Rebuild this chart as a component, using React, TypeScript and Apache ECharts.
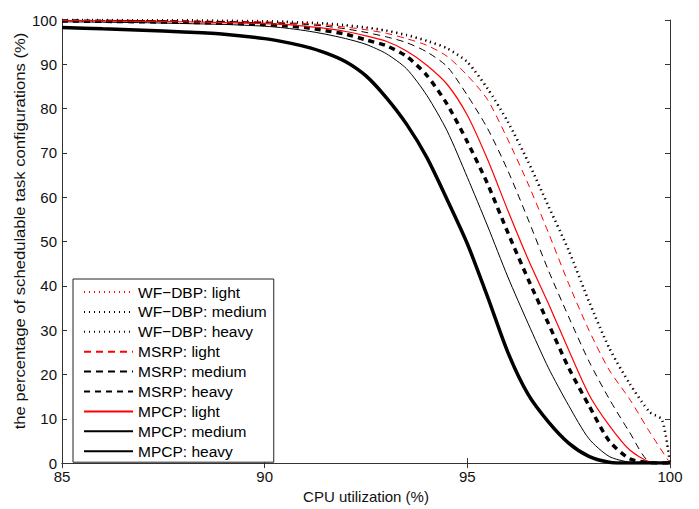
import React, { useEffect, useRef } from "react";
import * as echarts from "echarts";

const xs = [85, 86, 87, 88, 89, 90, 90.5, 91, 91.5, 92, 92.5, 93, 93.5, 94, 94.5, 95, 95.5, 96, 96.5, 97, 97.5, 98, 98.5, 99, 99.5, 100];
const xsWF = [85, 86, 87, 88, 89, 90, 90.5, 91, 91.5, 92, 92.5, 93, 93.5, 94, 94.5, 95, 95.5, 96, 96.5, 97, 97.5, 98, 98.5, 99, 99.5, 99.8, 100];

const wfLight = [100, 100, 99.9, 99.9, 99.8, 99.7, 99.6, 99.4, 99.2, 98.8, 98.3, 97.6, 96.6, 95.3, 93.6, 90.5, 84.5, 77, 68, 58, 48, 36.5, 26, 18, 11.5, 9.8, 0];
const wfMedium = [100, 100, 99.9, 99.9, 99.8, 99.7, 99.6, 99.4, 99.2, 98.8, 98.3, 97.6, 96.6, 95.3, 93.6, 90.5, 84.5, 77, 68, 58, 48, 36.5, 26, 18, 11.5, 9.8, 0];
const wfHeavy = [100, 100, 99.9, 99.9, 99.8, 99.7, 99.6, 99.4, 99.2, 98.8, 98.3, 97.6, 96.6, 95.3, 93.6, 90.5, 84.5, 77, 68, 58, 48, 36.5, 26, 18, 11.5, 9.8, 0];

const msrpLight = [100, 99.9, 99.9, 99.8, 99.7, 99.6, 99.4, 99.2, 98.9, 98.4, 97.8, 97.0, 95.8, 94.3, 91.8, 87.5, 82, 73, 63, 52, 40.5, 30, 21, 14.5, 7, 0];
const msrpMedium = [99.9, 99.9, 99.8, 99.7, 99.6, 99.4, 99.2, 99.0, 98.6, 98.0, 97.2, 96.2, 94.9, 92.8, 89.5, 83, 75.5, 66, 55, 43.5, 33, 23, 14.5, 7, 0.3, 0];
const msrpHeavy = [99.8, 99.7, 99.6, 99.5, 99.3, 99.0, 98.7, 98.3, 97.6, 96.8, 95.5, 94.2, 91.8, 87.5, 81.0, 72.5, 63, 52, 41.5, 31.5, 21.5, 13, 5, 1, 0.1, 0];

const mpcpLight = [99.9, 99.8, 99.7, 99.6, 99.4, 99.2, 99.0, 98.6, 98.1, 97.4, 96.4, 95.2, 93.0, 89.8, 85.5, 78.5, 68.5, 57, 46, 36, 25.5, 15.5, 8.5, 3, 0.3, 0];
const mpcpMedium = [99.6, 99.5, 99.4, 99.2, 99.0, 98.6, 98.2, 97.6, 96.8, 95.8, 94.5, 92.4, 89.0, 83.0, 75.0, 64.5, 53.5, 42, 31.5, 21.5, 13, 5.5, 1.5, 0.2, 0, 0];
const mpcpHeavy = [98.3, 98.0, 97.7, 97.3, 96.8, 95.8, 95.0, 94.0, 92.6, 90.6, 87.4, 82.5, 76.5, 69.0, 59.5, 49.5, 37.5, 25, 15.5, 9.3, 4.5, 1.5, 0.2, 0, 0, 0];

const xTicks = [85, 90, 95, 100];
const yTicks = [0, 10, 20, 30, 40, 50, 60, 70, 80, 90, 100];
const xTitle = "CPU utilization (%)";
const yTitle = "the percentage of schedulable task configurations (%)";

const FONT = "Liberation Sans, Arial, Helvetica, sans-serif";
const RED = "#ff0000";
const BLACK = "#000000";

const seriesDefs = [
  { name: "WF\u2212DBP: light", x: xsWF, y: wfLight, color: RED, width: 1, type: [1, 4] },
  { name: "WF\u2212DBP: medium", x: xsWF, y: wfMedium, color: BLACK, width: 1, type: [1, 4] },
  { name: "WF\u2212DBP: heavy", x: xsWF, y: wfHeavy, color: BLACK, width: 2.8, type: [1, 4] },
  { name: "MSRP: light", x: xs, y: msrpLight, color: RED, width: 1, type: [7, 5] },
  { name: "MSRP: medium", x: xs, y: msrpMedium, color: BLACK, width: 1, type: [7, 5] },
  { name: "MSRP: heavy", x: xs, y: msrpHeavy, color: BLACK, width: 3.5, type: [6, 5] },
  { name: "MPCP: light", x: xs, y: mpcpLight, color: RED, width: 1.2, type: "solid" },
  { name: "MPCP: medium", x: xs, y: mpcpMedium, color: BLACK, width: 1, type: "solid" },
  { name: "MPCP: heavy", x: xs, y: mpcpHeavy, color: BLACK, width: 3.5, type: "solid" },
];

export default function App() {
  const ref = useRef<HTMLDivElement>(null);
  useEffect(() => {
    if (!ref.current) return;
    const chart = echarts.init(ref.current, undefined, { renderer: "svg" });
    const axisLineStyle = { color: "#333", width: 1 };
    const option: any = {
      animation: false,
      backgroundColor: "#fff",
      textStyle: { fontFamily: FONT },
      grid: { left: 62, right: 29, top: 20, bottom: 42, containLabel: false },
      graphic: [
        {
          type: "text",
          x: 20,
          y: 231,
          rotation: Math.PI / 2,
          scaleX: 1.11,
          style: {
            text: yTitle,
            fontSize: 15,
            fontFamily: FONT,
            fill: "#111",
            align: "center",
            verticalAlign: "middle",
          },
        },
      ],
      xAxis: [
        {
          type: "value",
          min: 85,
          max: 100,
          interval: 5,
          position: "bottom",
          name: xTitle,
          nameLocation: "middle",
          nameGap: 22,
          nameTextStyle: { fontSize: 15, color: "#111", fontFamily: FONT },
          axisLine: { show: true, lineStyle: axisLineStyle },
          axisTick: { show: true, inside: true, length: 5, lineStyle: axisLineStyle },
          axisLabel: {
            fontSize: 15,
            color: "#111",
            margin: 6,
            fontFamily: FONT,
            formatter: (v: number) => (xTicks.includes(v) ? String(v) : ""),
          },
          splitLine: { show: false },
        },
        {
          type: "value",
          min: 85,
          max: 100,
          interval: 5,
          position: "top",
          axisLine: { show: true, lineStyle: axisLineStyle },
          axisTick: { show: true, inside: true, length: 5, lineStyle: axisLineStyle },
          axisLabel: { show: false },
          splitLine: { show: false },
        },
      ],
      yAxis: [
        {
          type: "value",
          min: 0,
          max: 100,
          interval: 10,
          position: "left",
          axisLine: { show: true, lineStyle: axisLineStyle },
          axisTick: { show: true, inside: true, length: 5, lineStyle: axisLineStyle },
          axisLabel: {
            fontSize: 15,
            color: "#111",
            margin: 5,
            fontFamily: FONT,
            formatter: (v: number) => (yTicks.includes(v) ? String(v) : ""),
          },
          splitLine: { show: false },
        },
        {
          type: "value",
          min: 0,
          max: 100,
          interval: 10,
          position: "right",
          axisLine: { show: true, lineStyle: axisLineStyle },
          axisTick: { show: true, inside: true, length: 5, lineStyle: axisLineStyle },
          axisLabel: { show: false },
          splitLine: { show: false },
        },
      ],
      legend: {
        show: true,
        orient: "vertical",
        left: 73,
        top: 279,
        itemWidth: 49,
        itemHeight: 14,
        itemGap: 3.9,
        padding: [5, 7, 3, 10],
        backgroundColor: "#fff",
        borderColor: "#222",
        borderWidth: 1,
        borderRadius: 0,
        itemStyle: { color: "rgba(0,0,0,0)", borderWidth: 0, opacity: 0 },
        textStyle: { fontSize: 15.5, color: "#000", fontFamily: FONT },
        data: seriesDefs.map((s) => s.name),
      },
      series: seriesDefs.map((s) => ({
        name: s.name,
        type: "line",
        xAxisIndex: 0,
        yAxisIndex: 0,
        data: s.x.map((xv, i) => [xv, s.y[i]]),
        showSymbol: false,
        symbol: "none",
        smooth: 0.25,
        color: s.color,
        lineStyle: { color: s.color, width: s.width, type: s.type, cap: "butt" },
        emphasis: { disabled: true },
      })),
    };
    chart.setOption(option);
    return () => chart.dispose();
  }, []);
  return <div ref={ref} style={{ width: 699, height: 509, position: "absolute", left: 0, top: 0 }} />;
}
